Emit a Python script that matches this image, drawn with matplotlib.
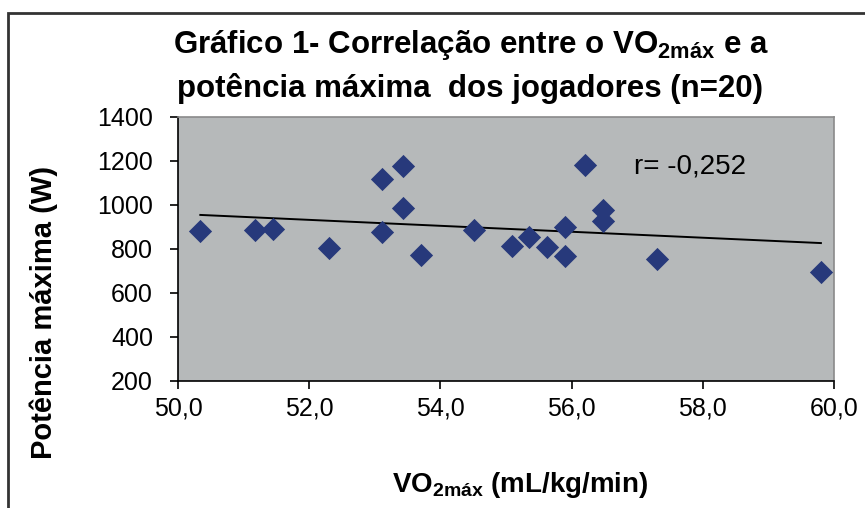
import matplotlib.pyplot as plt
import numpy as np
from matplotlib.patches import Rectangle

# VO2max (mL/kg/min) vs maximum power (W), n=20
vo2max = [50.34, 51.17, 51.45, 52.30, 53.11, 53.11, 53.43, 53.43, 53.70, 54.51,
          55.09, 55.35, 55.63, 55.90, 55.90, 56.20, 56.48, 56.48, 57.30, 59.80]
potencia = [882, 886, 891, 805, 1118, 877, 1177, 986, 773, 886,
            814, 855, 809, 900, 768, 1182, 977, 927, 755, 695]

x_ticks = [50.0, 52.0, 54.0, 56.0, 58.0, 60.0]
y_ticks = [200, 400, 600, 800, 1000, 1200, 1400]
r_label = 'r= -0,252'

font = 'Liberation Sans'
plt.rcParams['font.family'] = font
plt.rcParams['mathtext.fontset'] = 'custom'
plt.rcParams['mathtext.rm'] = font
plt.rcParams['mathtext.bf'] = font + ':bold'

fig = plt.figure(figsize=(8.65, 5.08), dpi=100)
ax = fig.add_axes([0.2058, 0.25, 0.7584, 0.5197])
ax.set_facecolor('#b6b9ba')

ax.scatter(vo2max, potencia, marker='D', s=140, color='#27397b', zorder=3, linewidths=0)

# linear trend line
coef = np.polyfit(vo2max, potencia, 1)
xs = np.array([min(vo2max), max(vo2max)])
ax.plot(xs, np.polyval(coef, xs), color='black', linewidth=1.4, zorder=2)

ax.text(56.95, 1177, r_label, fontsize=20, va='center')

ax.set_xlim(50, 60)
ax.set_ylim(200, 1400)
ax.set_xticks(x_ticks)
ax.set_yticks(y_ticks)
ax.set_xticklabels([f'{t:.1f}'.replace('.', ',') for t in x_ticks])
ax.tick_params(direction='out', length=6, width=1.2, labelsize=18)
ax.tick_params(axis='y', pad=12)
ax.tick_params(axis='x', pad=5)

for s in ['left', 'bottom']:
    ax.spines[s].set_color('black')
    ax.spines[s].set_linewidth(1.2)
for s in ['top', 'right']:
    ax.spines[s].set_color('#8a8a8a')
    ax.spines[s].set_linewidth(1.2)

ax.set_ylabel('Potência máxima (W)', fontsize=21, fontweight='bold')
ax.yaxis.set_label_coords(-0.183, 0.26)

fig.text(0.601, 0.015, r'VO$_{\mathbf{2máx}}$ (mL/kg/min)', fontsize=20,
         fontweight='bold', ha='center', va='bottom')

fig.text(0.545, 0.911, r'Gráfico 1- Correlação entre o VO$_{\mathbf{2máx}}$ e a',
         fontsize=22.5, fontweight='bold', ha='center', va='center')
fig.text(0.543, 0.826, 'potência máxima  dos jogadores (n=20)',
         fontsize=22.5, fontweight='bold', ha='center', va='center')

# chart area border
fig.patches.append(Rectangle((8 / 865, -0.05), 1.2, 0.05 + (508 - 13) / 508,
                             transform=fig.transFigure, fill=False,
                             edgecolor='#333333', linewidth=2))

fig.savefig('out.png', dpi=100)
